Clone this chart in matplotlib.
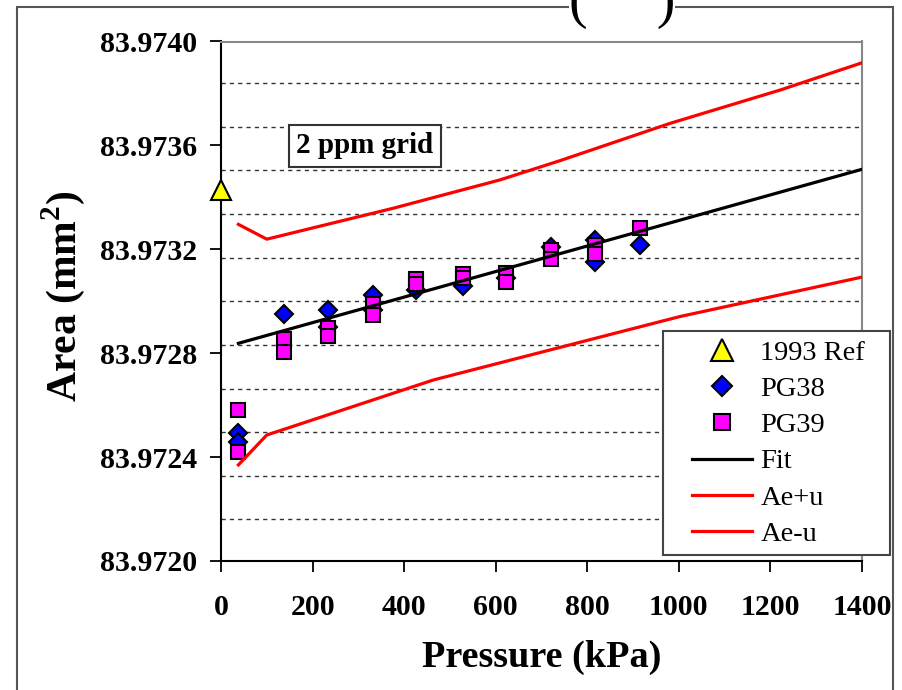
import matplotlib
matplotlib.use("Agg")
import matplotlib.pyplot as plt
from matplotlib.patches import Rectangle
from matplotlib.ticker import FormatStrFormatter

plt.rcParams["font.family"] = ["Liberation Serif", "DejaVu Serif"]
plt.rcParams["mathtext.fontset"] = "custom"
plt.rcParams["mathtext.rm"] = "Liberation Serif"
plt.rcParams["mathtext.bf"] = "Liberation Serif:bold"

# 1993 reference value
REF_P = [0]
REF_A = [83.97343]

# PG38 (diamantes)
PG38_P = [38, 38, 138, 234, 234, 331, 331, 426, 528, 622, 721, 817, 817, 915]
PG38_A = [83.972492, 83.972459, 83.972950, 83.972966, 83.972900, 83.973024,
          83.972965, 83.973043, 83.973059, 83.973090, 83.973210, 83.973236,
          83.973152, 83.973217]

# PG39 (cuadrados)
PG39_P = [38, 38, 138, 138, 234, 234, 331, 331, 426, 426, 528, 528,
          622, 622, 721, 721, 817, 817, 915]
PG39_A = [83.972581, 83.972421, 83.972854, 83.972803, 83.972898, 83.972866,
          83.972988, 83.972947, 83.973085, 83.973065, 83.973104, 83.973088,
          83.973110, 83.973075, 83.973197, 83.973163, 83.973217, 83.973182,
          83.973283]

# ajuste lineal
FIT_P = [38, 1002, 1400]
FIT_A = [83.972838, 83.973312, 83.973508]

# bandas de incertidumbre
UP_P = [38, 100, 376, 609, 740, 981, 1221, 1400]
UP_A = [83.973296, 83.973239, 83.973358, 83.973467, 83.973541, 83.973685,
        83.973813, 83.973918]
LO_P = [38, 100, 464, 1002, 1400]
LO_A = [83.972370, 83.972485, 83.972697, 83.972941, 83.973093]

# grilla de 2 ppm
GRID_A = [83.97300 + k * 0.000168 for k in range(-5, 6)]

Y_TICKS = [83.9720, 83.9724, 83.9728, 83.9732, 83.9736, 83.9740]
X_TICKS = [0, 200, 400, 600, 800, 1000, 1200, 1400]

W, H = 903, 690
fig = plt.figure(figsize=(W / 100, H / 100), dpi=100)
ax = fig.add_axes([221 / W, 1 - 561 / H, 641 / W, 519.5 / H])

for g in GRID_A:
    ax.axhline(g, color="#333333", lw=1.0, ls=(0, (3, 3)), zorder=1)

ax.plot(REF_P, REF_A, ls="none", marker="^", ms=14, mfc="#FFFF00", mec="black",
        mew=1.5, label="1993 Ref", zorder=5, clip_on=False)
ax.plot(PG38_P, PG38_A, ls="none", marker="D", ms=9.5, mfc="#0000FF", mec="black",
        mew=1.5, label="PG38", zorder=3)
ax.plot(PG39_P, PG39_A, ls="none", marker="s", ms=10, mfc="#FF00FF", mec="black",
        mew=1.5, label="PG39", zorder=4)
ax.plot(FIT_P, FIT_A, color="black", lw=2.3, label="Fit", zorder=4)
ax.plot(UP_P, UP_A, color="#FF0000", lw=2.3, label="Ae+u", zorder=4)
ax.plot(LO_P, LO_A, color="#FF0000", lw=2.3, label="Ae-u", zorder=4)

ax.set_xlim(0, 1400)
ax.set_ylim(83.9720, 83.9740)
ax.set_xticks(X_TICKS)
ax.set_yticks(Y_TICKS)
ax.yaxis.set_major_formatter(FormatStrFormatter("%.4f"))
ax.tick_params(axis="both", direction="out", length=8, width=1.3,
               labelsize=21.5)
ax.tick_params(axis="x", pad=16)
ax.tick_params(axis="y", pad=9)
for lab in ax.get_xticklabels() + ax.get_yticklabels():
    lab.set_fontweight("bold")

for s in ["left", "bottom"]:
    ax.spines[s].set_color("black")
    ax.spines[s].set_linewidth(1.5)
for s in ["top", "right"]:
    ax.spines[s].set_color("#888888")
    ax.spines[s].set_linewidth(1.5)

ax.set_xlabel("Pressure (kPa)", fontsize=27.5, fontweight="bold")
ax.xaxis.set_label_coords(0.5, -0.152)
ax.set_ylabel("Area (mm$^{\\mathbf{2}}$)", fontsize=30, fontweight="bold")
ax.yaxis.set_label_coords(-0.247, 0.51)
ax.yaxis.label.set_va("center")

ax.text(0.2246, 0.799, "2 ppm grid", transform=ax.transAxes, fontsize=21,
        fontweight="bold", ha="center", va="center", zorder=6,
        bbox=dict(boxstyle="square,pad=0.25", fc="white", ec="#333333", lw=1.5))

# caja de la leyenda
fig.patches.append(Rectangle((663 / W, 1 - 555 / H), 227 / W, 224 / H,
                             transform=fig.transFigure, fc="white",
                             ec="#444444", lw=1.5, zorder=10))
leg = fig.legend(loc="upper left", bbox_to_anchor=(692 / W, 1 - 340 / H),
                 frameon=False, fontsize=20.5, borderpad=0, handlelength=2.1,
                 handletextpad=0.3, labelspacing=0.36, borderaxespad=0,
                 markerscale=1.1)
leg.set_zorder(11)

# marco de la diapositiva y titulo recortado
fig.patches.append(Rectangle((17 / W, -0.1), 876 / W, 1.1 - 7 / H,
                             transform=fig.transFigure, fill=False,
                             ec="#555555", lw=1.5))
fig.text(622 / W, 1 - 17 / H, "(     )", fontsize=40, ha="center",
         va="baseline", bbox=dict(fc="white", ec="none", pad=0))

fig.savefig("out.png", dpi=100, facecolor="white")
